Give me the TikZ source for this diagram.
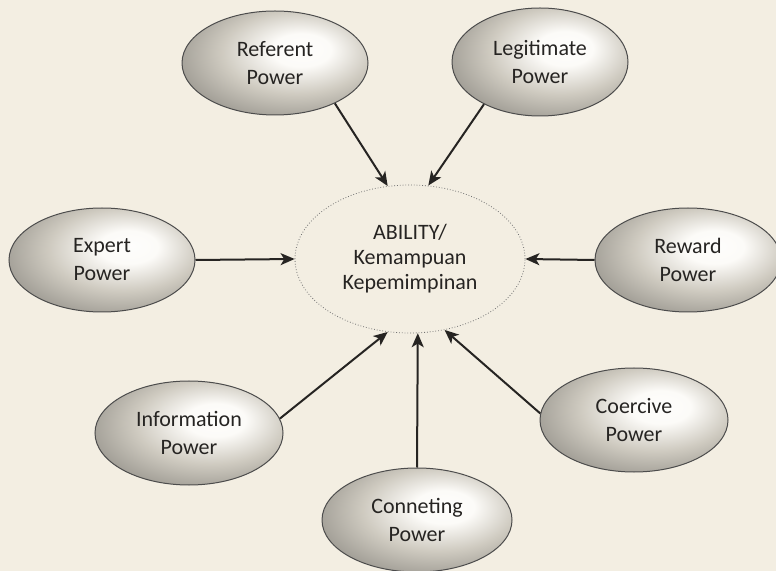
\documentclass[tikz,border=0pt]{standalone}
\usepackage{fontspec}
\setmainfont{Carlito}
\usetikzlibrary{shapes.geometric,arrows.meta}
\definecolor{paper}{RGB}{243,238,226}
\definecolor{ink}{RGB}{38,36,34}
\pgfdeclareradialshading{powershade}{\pgfpoint{8bp}{7bp}}{%
  color(0bp)=(white!90!paper);
  color(8bp)=(white!75!paper);
  color(20bp)=(black!15!paper);
  color(32bp)=(black!35!paper);
  color(40bp)=(black!58!paper);
  color(48bp)=(black!72!paper);
  color(70bp)=(black!78!paper)}
\tikzset{
  power/.style={shape=ellipse, minimum width=93pt, minimum height=52pt, inner sep=0pt,
    shading=powershade, draw=black!70, line width=0.5pt, text=ink,
    font=\fontsize{11}{14}\selectfont, align=center},
  ability/.style={shape=ellipse, minimum width=115pt, minimum height=74pt, inner sep=0pt,
    draw=black!55, densely dotted, line width=0.4pt, text=ink,
    font=\fontsize{11}{12.5}\selectfont, align=center},
  link/.style={draw=ink, line width=1pt, -{Stealth[length=7pt,width=6pt,inset=1.8pt]}}
}
\begin{document}
\begin{tikzpicture}[x=0.5pt,y=-0.5pt]
\fill[paper] (0,0) rectangle (776,571);
\useasboundingbox (0,0) rectangle (776,571);
\clip (0,0) rectangle (776,571);
\node[ability] (abil) at (410,259) {ABILITY/\\Kemampuan\\Kepemimpinan};
\node[power] (ref) at (275,63) {Referent\\Power};
\node[power, minimum width=88pt, minimum height=54pt] (leg) at (540,62) {Legitimate\\Power};
\node[power] (exp) at (102,260) {Expert\\Power};
\node[power] (rew) at (688,260) {Reward\\Power};
\node[power, minimum width=94pt] (info) at (189,433) {Information\\Power};
\node[power, minimum width=94pt] (coer) at (634,420) {Coercive\\Power};
\node[power, minimum width=95pt] (conn) at (417,520) {Conneting\\Power};
\draw[link] (ref.-34.6) -- (abil.107);
\draw[link] (leg.217) -- (abil.76);
\draw[link] (exp.0) -- (abil.180);
\draw[link] (rew.180) -- (abil.0);
\draw[link] (info.9.4) -- (abil.253.8);
\draw[link] (conn.north) -- (abil.-84);
\draw[link] (coer.176.9) -- (abil.-64.8);
\end{tikzpicture}
\end{document}
